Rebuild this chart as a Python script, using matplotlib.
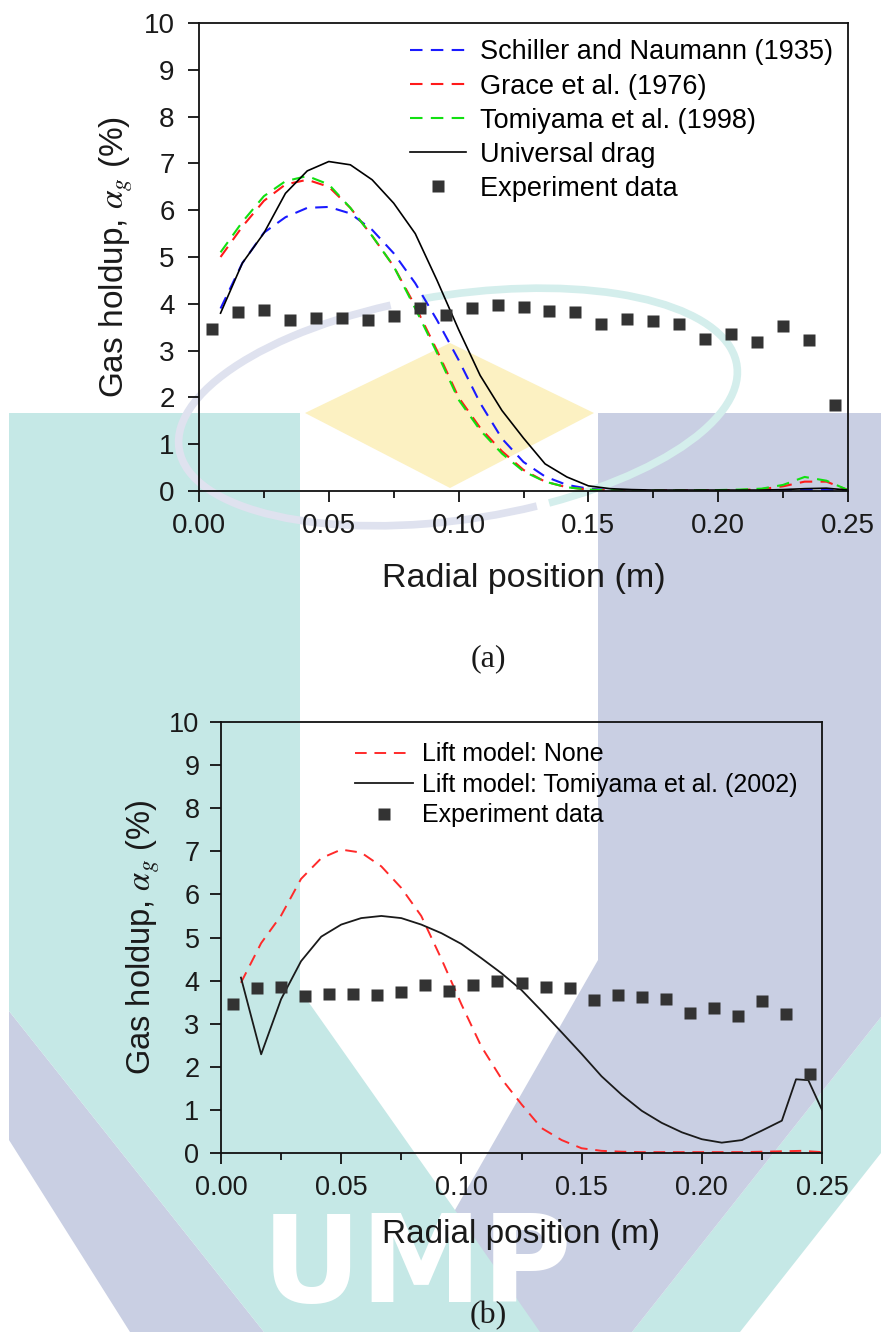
import matplotlib
matplotlib.use('Agg')
import matplotlib.pyplot as plt
from matplotlib.patches import Polygon, Arc
from matplotlib.ticker import MultipleLocator, FormatStrFormatter

plt.rcParams['font.family'] = ['Liberation Sans', 'DejaVu Sans']
plt.rcParams['mathtext.fontset'] = 'stix'

# ---------------- data ----------------
x_exp = [0.005, 0.015, 0.025, 0.035, 0.045, 0.055, 0.065, 0.075, 0.085, 0.095,
         0.105, 0.115, 0.125, 0.135, 0.145, 0.155, 0.165, 0.175, 0.185, 0.195,
         0.205, 0.215, 0.225, 0.235, 0.245]
exp_y = [3.46, 3.83, 3.86, 3.65, 3.69, 3.69, 3.66, 3.73, 3.90, 3.76,
         3.90, 3.98, 3.94, 3.85, 3.83, 3.56, 3.67, 3.63, 3.57, 3.25,
         3.36, 3.19, 3.52, 3.23, 1.83]

x_sim = [0.0083, 0.0167, 0.0250, 0.0333, 0.0417, 0.0500, 0.0583, 0.0667, 0.0750, 0.0833,
         0.0917, 0.1000, 0.1083, 0.1167, 0.1250, 0.1333, 0.1417, 0.1500, 0.1583, 0.1667,
         0.1750, 0.1833, 0.1917, 0.2000, 0.2083, 0.2167, 0.2250, 0.2333, 0.2417, 0.2500]

schiller = [3.90, 4.87, 5.52, 5.85, 6.05, 6.07, 5.93, 5.58, 5.08, 4.44,
            3.65, 2.80, 1.88, 1.12, 0.62, 0.31, 0.13, 0.05, 0.02, 0.01,
            0.01, 0.01, 0.01, 0.01, 0.01, 0.01, 0.02, 0.03, 0.02, 0.01]
grace = [5.00, 5.65, 6.20, 6.55, 6.65, 6.50, 6.05, 5.45, 4.80, 3.95,
         3.00, 2.00, 1.35, 0.85, 0.45, 0.20, 0.08, 0.03, 0.015, 0.01,
         0.01, 0.01, 0.01, 0.015, 0.02, 0.04, 0.10, 0.20, 0.20, 0.02]
tomiyama98 = [5.10, 5.75, 6.30, 6.62, 6.73, 6.55, 6.05, 5.45, 4.80, 3.90,
              2.95, 1.95, 1.30, 0.80, 0.42, 0.20, 0.08, 0.03, 0.015, 0.01,
              0.01, 0.01, 0.015, 0.02, 0.03, 0.05, 0.13, 0.30, 0.22, 0.02]
universal = [3.80, 4.87, 5.51, 6.36, 6.84, 7.04, 6.97, 6.65, 6.15, 5.50,
             4.50, 3.45, 2.47, 1.72, 1.13, 0.58, 0.30, 0.11, 0.05, 0.03,
             0.02, 0.02, 0.02, 0.02, 0.02, 0.02, 0.03, 0.05, 0.06, 0.02]

lift_none = [3.95, 4.87, 5.51, 6.36, 6.84, 7.04, 6.97, 6.65, 6.15, 5.50,
             4.50, 3.45, 2.47, 1.72, 1.13, 0.58, 0.30, 0.11, 0.05, 0.03,
             0.02, 0.02, 0.02, 0.02, 0.02, 0.02, 0.03, 0.04, 0.05, 0.02]

x_lift = [0.0083, 0.0167, 0.0250, 0.0333, 0.0417, 0.0500, 0.0583, 0.0667, 0.0750, 0.0833,
          0.0917, 0.1000, 0.1083, 0.1167, 0.1250, 0.1333, 0.1417, 0.1500, 0.1583, 0.1667,
          0.1750, 0.1833, 0.1917, 0.2000, 0.2083, 0.2167, 0.2250, 0.2333, 0.2392, 0.2443, 0.2500]
lift_tomiyama = [4.07, 2.29, 3.57, 4.45, 5.02, 5.30, 5.45, 5.50, 5.45, 5.30,
                 5.10, 4.85, 4.52, 4.17, 3.78, 3.30, 2.80, 2.30, 1.78, 1.35,
                 0.98, 0.70, 0.48, 0.32, 0.24, 0.30, 0.52, 0.75, 1.71, 1.69, 1.00]

labels_a = ['Schiller and Naumann (1935)', 'Grace et al. (1976)',
            'Tomiyama et al. (1998)', 'Universal drag', 'Experiment data']
labels_b = ['Lift model: None', 'Lift model: Tomiyama et al. (2002)', 'Experiment data']

W, H = 881, 1332
fig = plt.figure(figsize=(W / 100, H / 100), dpi=100, facecolor='white')

# ---------------- background watermark (decorative) ----------------
def fp(pts):
    return [(x / W, 1 - y / H) for x, y in pts]

TEAL = '#c5e8e6'
LAV = '#c9cfe3'
YEL = '#fcf1c2'

def poly(pts, color, z):
    fig.add_artist(Polygon(fp(pts), closed=True, transform=fig.transFigure,
                           facecolor=color, edgecolor='none', zorder=z))

poly([(9, 1011), (264, 1332), (130, 1332), (9, 1140)], LAV, -10)
poly([(881, 1017), (632, 1332), (740, 1332), (881, 1153)], TEAL, -10)
poly([(598, 413), (881, 413), (881, 1017), (632, 1332), (390, 1332), (455, 1210), (598, 960)], LAV, -9)
poly([(9, 413), (300, 413), (300, 990), (455, 1210), (540, 1332), (264, 1332), (9, 1011)], TEAL, -8)
poly([(450, 343), (594, 413), (450, 488), (305, 413)], YEL, -8)

arc_kw = dict(transform=fig.dpi_scale_trans, lw=5.5, zorder=-7)
fig.add_artist(Arc((458 / 100, (H - 407) / 100), 5.64, 2.25, angle=8.5,
                   theta1=-55, theta2=100, color='#d4eeec', **arc_kw))
fig.add_artist(Arc((458 / 100, (H - 407) / 100), 5.64, 2.25, angle=8.5,
                   theta1=115, theta2=300, color='#dfe2ef', **arc_kw))

fig.text(262 / W, 1 - 1302 / H, 'UMP', color='white', fontsize=88,
         fontweight='bold', family='DejaVu Sans', ha='left', va='baseline', zorder=-6)

# ---------------- axes ----------------
def style_axes(ax, fs, xpad, ypad):
    ax.set_facecolor('none')
    ax.set_xlim(0, 0.25)
    ax.set_ylim(0, 10)
    ax.xaxis.set_major_locator(MultipleLocator(0.05))
    ax.xaxis.set_minor_locator(MultipleLocator(0.025))
    ax.yaxis.set_major_locator(MultipleLocator(1))
    ax.xaxis.set_major_formatter(FormatStrFormatter('%.2f'))
    ax.tick_params(which='both', direction='out', top=False, right=False,
                   width=1.3, color='#111111')
    ax.tick_params(which='major', length=8, labelsize=fs, labelcolor='#1a1a1a')
    ax.tick_params(axis='x', which='major', pad=xpad)
    ax.tick_params(axis='y', which='major', pad=ypad)
    ax.tick_params(which='minor', length=5)
    for sp in ax.spines.values():
        sp.set_linewidth(1.3)
        sp.set_color('#111111')

DASH = (0, (6, 4))

# top panel (a)
ax1 = fig.add_axes([199 / W, 1 - 491 / H, 649 / W, 468 / H])
style_axes(ax1, 20, 8, 9.5)
ax1.plot(x_sim, schiller, color='#1a1aff', ls=DASH, lw=1.5, label=labels_a[0])
ax1.plot(x_sim, grace, color='#ff1a1a', ls=DASH, lw=1.5, label=labels_a[1])
ax1.plot(x_sim, tomiyama98, color='#11e011', ls=DASH, lw=1.5, label=labels_a[2])
ax1.plot(x_sim, universal, color='black', ls='-', lw=1.2, label=labels_a[3])
ax1.plot(x_exp, exp_y, ls='none', marker='s', ms=8.5, color='#333333',
         mec='none', label=labels_a[4])
ax1.legend(loc='upper left', bbox_to_anchor=(0.325, 0.965), frameon=False,
           fontsize=19.5, handlelength=2.07, handletextpad=0.52,
           labelspacing=0.3, borderpad=0, borderaxespad=0, numpoints=1)
ax1.set_xlabel('Radial position (m)', fontsize=24.5, va='center', color='#1a1a1a')
ax1.xaxis.set_label_coords(0.5, -0.186)
ax1.set_ylabel(r'Gas holdup, $\alpha_g$ (%)', fontsize=24, va='center', color='#1a1a1a')
ax1.yaxis.set_label_coords(-0.128, 0.5)

# bottom panel (b)
ax2 = fig.add_axes([221 / W, 1 - 1153 / H, 601 / W, 431 / H])
style_axes(ax2, 19.5, 7.5, 7.5)
ax2.plot(x_sim, lift_none, color='#ff2a2a', ls=DASH, lw=1.4, label=labels_b[0])
ax2.plot(x_lift, lift_tomiyama, color='#1a1a1a', ls='-', lw=1.3, label=labels_b[1])
ax2.plot(x_exp, exp_y, ls='none', marker='s', ms=8.2, color='#333333',
         mec='none', label=labels_b[2])
ax2.legend(loc='upper left', bbox_to_anchor=(0.223, 0.953), frameon=False,
           fontsize=18, handlelength=2.32, handletextpad=0.36,
           labelspacing=0.26, borderpad=0, borderaxespad=0, numpoints=1)
ax2.set_xlabel('Radial position (m)', fontsize=24, va='center', color='#1a1a1a')
ax2.xaxis.set_label_coords(0.5, -0.19)
ax2.set_ylabel(r'Gas holdup, $\alpha_g$ (%)', fontsize=23.5, va='center', color='#1a1a1a')
ax2.yaxis.set_label_coords(-0.13, 0.5)

fig.text(488 / W, 1 - 659 / H, '(a)', family='Liberation Serif', fontsize=23,
         ha='center', va='center', color='#1a1a1a')
fig.text(488 / W, 1 - 1316 / H, '(b)', family='Liberation Serif', fontsize=23,
         ha='center', va='center', color='#1a1a1a')

fig.savefig('out.png', dpi=100, facecolor='white')
